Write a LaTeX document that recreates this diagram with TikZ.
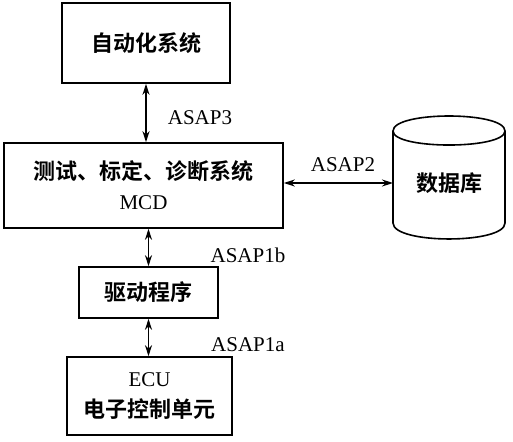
\documentclass[tikz,border=0pt]{standalone}
\usepackage{fontspec}
\setmainfont{Liberation Serif}
\newfontfamily\cjk{Noto Sans CJK SC}[BoldFont={Noto Sans CJK SC Bold}]
\usetikzlibrary{arrows.meta}
\newcommand{\zh}[1]{{\cjk\bfseries\fontsize{22}{28}\selectfont #1}}
\begin{document}
\begin{tikzpicture}[x=1pt,y=-1pt,
  box/.style={draw,line width=1.6pt,inner sep=0pt,align=center,font=\fontsize{21}{28}\selectfont},
  lbl/.style={font=\fontsize{21}{24}\selectfont,inner sep=0pt},
  link/.style={line width=1.4pt,{Stealth[length=11pt,width=7pt]}-{Stealth[length=11pt,width=7pt]}},
  cyl/.style={line width=1.6pt}
  ]
\useasboundingbox (0,0) rectangle (513,441);
% boxes
\node[box,minimum width=168pt,minimum height=80pt] (auto) at (146,43) {\zh{自动化系统}};
\node[box,minimum width=279pt,minimum height=85pt] (mcd) at (143.5,185.5) {\zh{测试、标定、诊断系统}\\[2pt] MCD};
\node[box,minimum width=139pt,minimum height=51pt] (drv) at (148.5,292.5) {\zh{驱动程序}};
\node[box,minimum width=165pt,minimum height=78pt] (ecu) at (149.5,396) {ECU\\[3pt] \zh{电子控制单元}};
% database cylinder
\node[inner sep=0pt,minimum width=112pt,minimum height=104pt] (db) at (449,183) {\zh{数据库}};
\draw[cyl] (393,131) .. controls (393,111) and (505,111) .. (505,131)
  .. controls (505,149.7) and (393,149.7) .. (393,131) -- cycle;
\draw[cyl] (393,131) -- (393,223) .. controls (393,244.3) and (505,244.3) .. (505,223) -- (505,131);
% connectors
\draw[link] (auto.south) -- (auto.south |- mcd.north);
\draw[link] (drv.north) -- (drv.north |- mcd.south);
\draw[link] (drv.south) -- (drv.south |- ecu.north);
\coordinate (dbin) at (393,183);
\draw[link] (mcd.east |- dbin) -- (dbin);
% labels
\node[lbl] (l3) at (200,118) {ASAP3};
\node[lbl] (l2) at (343,165) {ASAP2};
\node[lbl] (l1b) at (248,255) {ASAP1b};
\node[lbl] (l1a) at (248,345) {ASAP1a};
\end{tikzpicture}
\end{document}
